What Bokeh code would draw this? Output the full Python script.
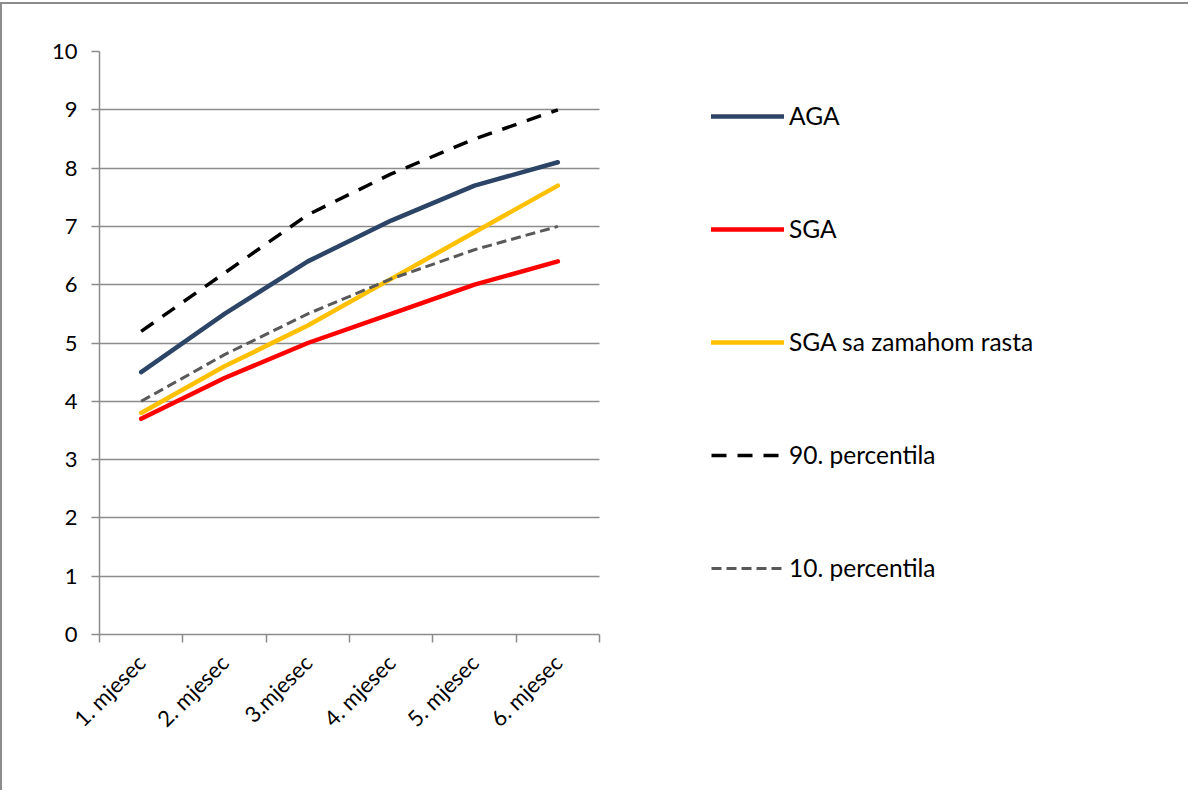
import math
from bokeh.plotting import figure
from bokeh.models import FixedTicker, Legend, LegendItem, Range1d
from bokeh.embed import file_html
from bokeh.resources import INLINE

months = ["1. mjesec", "2. mjesec", "3.mjesec", "4. mjesec", "5. mjesec", "6. mjesec"]
aga = [4.5, 5.5, 6.4, 7.1, 7.7, 8.1]
sga = [3.7, 4.4, 5.0, 5.5, 6.0, 6.4]
sga_catch = [3.8, 4.6, 5.3, 6.1, 6.9, 7.7]
p90 = [5.2, 6.2, 7.2, 7.9, 8.5, 9.0]
p10 = [4.0, 4.8, 5.5, 6.1, 6.6, 7.0]
y_ticks = list(range(0, 11))

FONT = "Lato"
GRID = "#8c8c8c"

n = len(months)
xs = [i + 0.5 for i in range(n)]

# layout: the data area spans 500 px; the frame continues to the right so the
# legend can sit inside it without being clipped
PLOT_W = 500
FRAME_W = 1080
x_end = n * FRAME_W / PLOT_W

p = figure(frame_width=FRAME_W, frame_height=583, output_backend="svg", toolbar_location=None,
           x_range=Range1d(0, x_end), y_range=Range1d(0, 10),
           min_border_left=97, min_border_top=47, min_border_right=9,
           min_border_bottom=156)
p.styles = {"border-top": "2px solid #8c8c8c", "border-left": "2px solid #8c8c8c",
            "margin-top": "2px"}
p.outline_line_color = None
p.xgrid.visible = False
p.ygrid.grid_line_color = GRID
p.ygrid.grid_line_width = 1.5
try:
    p.ygrid.cross_bounds = (0, n)
except Exception:
    p.ygrid.visible = False
    p.segment(x0=[0] * len(y_ticks), x1=[n] * len(y_ticks), y0=y_ticks, y1=y_ticks,
              line_color=GRID, line_width=1.5)
p.xaxis.bounds = (0, n)
p.yaxis.ticker = FixedTicker(ticks=y_ticks)
p.xaxis.ticker = FixedTicker(ticks=xs, minor_ticks=list(range(n + 1)))
p.xaxis.major_label_overrides = {x: m for x, m in zip(xs, months)}
p.xaxis.major_label_orientation = math.pi / 4
p.xaxis.major_tick_out = 0
p.xaxis.major_tick_in = 0
p.xaxis.minor_tick_out = 8
p.xaxis.minor_tick_in = 0
p.xaxis.minor_tick_line_color = GRID
p.xaxis.minor_tick_line_width = 1.5
p.yaxis.minor_tick_line_color = None
p.yaxis.major_tick_out = 8
p.yaxis.major_tick_in = 0
for ax in (p.xaxis, p.yaxis):
    ax.axis_line_color = GRID
    ax.axis_line_width = 1.5
    ax.major_tick_line_color = GRID
    ax.major_tick_line_width = 1.5
    ax.major_label_text_font = FONT
    ax.major_label_text_font_size = "22px"
    ax.major_label_text_color = "#000000"
p.yaxis.major_label_standoff = 14
p.xaxis.major_label_standoff = 16

r1 = p.line(xs, aga, line_color="#2c4566", line_width=4.5, line_cap="round")
r2 = p.line(xs, sga, line_color="#ff0000", line_width=4.5, line_cap="round")
r3 = p.line(xs, sga_catch, line_color="#ffc000", line_width=4.5, line_cap="round")
r4 = p.line(xs, p90, line_color="#000000", line_width=3.5, line_dash="15 11")
r5 = p.line(xs, p10, line_color="#595959", line_width=3, line_dash="10 5")

legend = Legend(items=[
    LegendItem(label="AGA", renderers=[r1]),
    LegendItem(label="SGA", renderers=[r2]),
    LegendItem(label="SGA sa zamahom rasta", renderers=[r3]),
    LegendItem(label="90. percentila", renderers=[r4]),
    LegendItem(label="10. percentila", renderers=[r5]),
], location=(612, 52))
legend.border_line_color = None
legend.background_fill_alpha = 0
legend.padding = 0
legend.margin = 0
legend.glyph_width = 73
legend.glyph_height = 20
legend.label_height = 20
legend.spacing = 84
legend.label_standoff = 5
legend.label_text_font = FONT
legend.label_text_font_size = "24.5px"
legend.label_text_color = "#000000"
legend.label_text_baseline = "middle"
p.add_layout(legend, "center")

open("out.html", "w").write(file_html(p, INLINE))
